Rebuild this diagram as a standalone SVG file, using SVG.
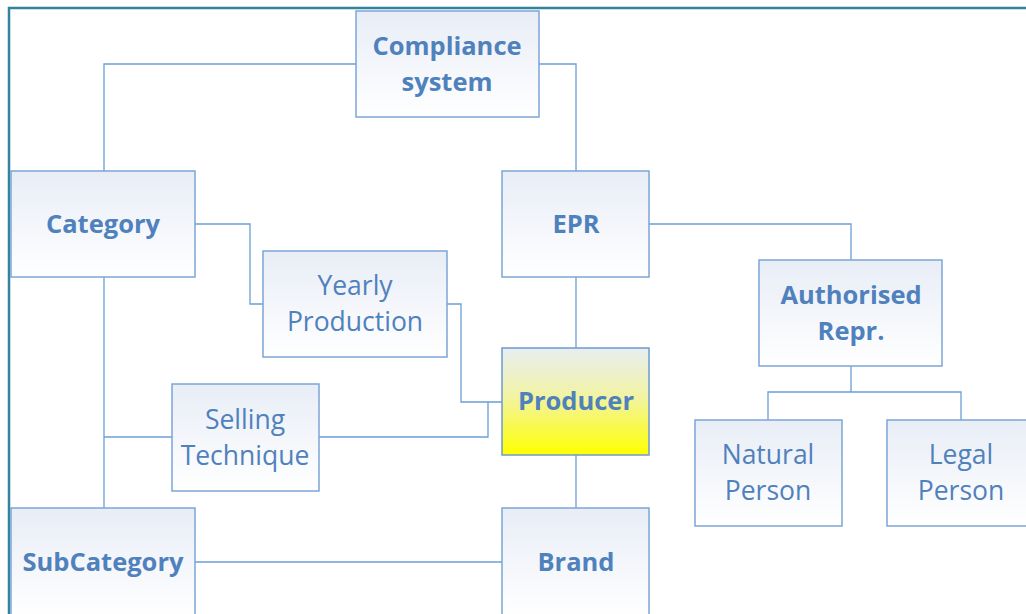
<svg xmlns="http://www.w3.org/2000/svg" width="1026" height="614" viewBox="0 0 1026 614">
  <defs>
    <linearGradient id="boxFill" x1="0" y1="0" x2="0" y2="1">
      <stop offset="0" stop-color="#E8EDF6"/>
      <stop offset="1" stop-color="#FFFFFF"/>
    </linearGradient>
    <linearGradient id="hotFill" x1="0" y1="0" x2="0" y2="1">
      <stop offset="0" stop-color="#E8EEF2"/>
      <stop offset="0.45" stop-color="#F2F3A4"/>
      <stop offset="1" stop-color="#FFFF00"/>
    </linearGradient>
    <style>
      .box { fill: url(#boxFill); stroke: #7BA6D6; stroke-width: 1.5; }
      .hot { fill: url(#hotFill); stroke: #6E9BCF; stroke-width: 1.5; }
      .wire { fill: none; stroke: #6A9FD6; stroke-width: 1.3; }
      text { font-family: "Open Sans", "Liberation Sans", sans-serif; fill: #4F81BD; text-anchor: middle; font-size: 26.5px; }
      .b { font-weight: bold; font-size: 25.5px; }
    </style>
  </defs>

  <rect width="1026" height="614" fill="#FFFFFF"/>
  <!-- outer frame -->
  <path d="M 9 614 L 9 8 L 1026 8" fill="none" stroke="#31849B" stroke-width="2.5"/>

  <g id="connectors">
    <path class="wire" d="M 356 64 H 104 V 171"/>
    <path class="wire" d="M 539 64 H 576 V 171"/>
    <path class="wire" d="M 195 224 H 250 V 304 H 263"/>
    <path class="wire" d="M 447 304 H 461 V 402 H 502"/>
    <path class="wire" d="M 319 437 H 488 V 402"/>
    <path class="wire" d="M 104 277 V 508"/>
    <path class="wire" d="M 104 437 H 172"/>
    <path class="wire" d="M 576 277 V 348"/>
    <path class="wire" d="M 576 455 V 508"/>
    <path class="wire" d="M 195 562 H 502"/>
    <path class="wire" d="M 649 224 H 851 V 260"/>
    <path class="wire" d="M 851 366 V 392"/>
    <path class="wire" d="M 768 420 V 392 H 961 V 420"/>
  </g>

  <g id="compliance">
    <rect class="box" x="356" y="11" width="183" height="106"/>
    <text class="b" x="447" y="55">Compliance</text>
    <text class="b" x="447" y="91">system</text>
  </g>
  <g id="category">
    <rect class="box" x="11" y="171" width="184" height="106"/>
    <text class="b" x="103" y="233">Category</text>
  </g>
  <g id="epr">
    <rect class="box" x="502" y="171" width="147" height="106"/>
    <text class="b" x="576" y="233">EPR</text>
  </g>
  <g id="yearly">
    <rect class="box" x="263" y="251" width="184" height="106"/>
    <text x="355" y="295">Yearly</text>
    <text x="355" y="331">Production</text>
  </g>
  <g id="authorised">
    <rect class="box" x="759" y="260" width="183" height="106"/>
    <text class="b" x="851" y="304">Authorised</text>
    <text class="b" x="851" y="340">Repr.</text>
  </g>
  <g id="producer">
    <rect class="hot" x="502" y="348" width="147" height="107"/>
    <text class="b" x="576" y="410">Producer</text>
  </g>
  <g id="selling">
    <rect class="box" x="172" y="384" width="147" height="107"/>
    <text x="245" y="429">Selling</text>
    <text x="245" y="465">Technique</text>
  </g>
  <g id="natural">
    <rect class="box" x="695" y="420" width="147" height="106"/>
    <text x="768" y="464">Natural</text>
    <text x="768" y="500">Person</text>
  </g>
  <g id="legal">
    <rect class="box" x="887" y="420" width="147" height="106"/>
    <text x="961" y="464">Legal</text>
    <text x="961" y="500">Person</text>
  </g>
  <g id="subcategory">
    <rect class="box" x="11" y="508" width="184" height="110"/>
    <text class="b" x="103" y="571">SubCategory</text>
  </g>
  <g id="brand">
    <rect class="box" x="502" y="508" width="147" height="110"/>
    <text class="b" x="576" y="571">Brand</text>
  </g>
</svg>
